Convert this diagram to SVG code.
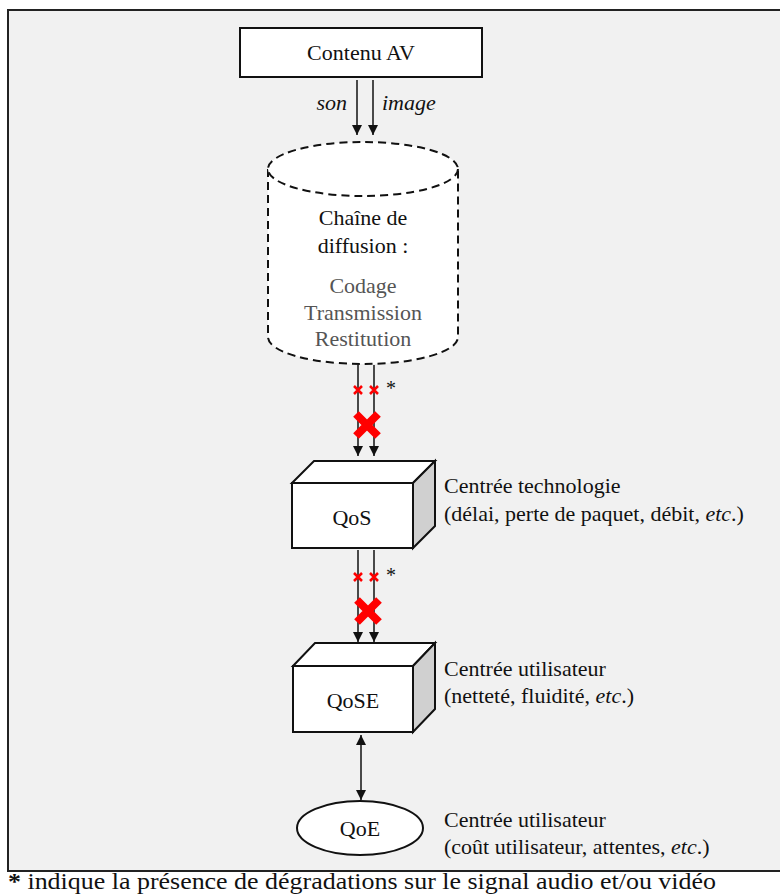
<svg xmlns="http://www.w3.org/2000/svg" width="780" height="894" viewBox="0 0 780 894">
<style>
.c{text-anchor:middle}
.ln{stroke:#111;stroke-width:1.5;fill:none}
.dash{stroke:#111;stroke-width:2;fill:#fff;stroke-dasharray:8,5}
.box{fill:#fff;stroke:#111;stroke-width:2}
.side{fill:#d0d0d0;stroke:#111;stroke-width:2}
.sx{stroke:#f00;stroke-width:2.5;fill:none}
.bx{stroke:#f00;stroke-width:8;fill:none}
</style>
<defs>
<marker id="ah" viewBox="0 0 10 10" refX="10" refY="5" markerWidth="10" markerHeight="10" markerUnits="userSpaceOnUse" orient="auto-start-reverse">
<path d="M0,0 L10,5 L0,10 z" fill="#111"/>
</marker>
</defs>
<rect x="0" y="0" width="780" height="894" fill="#fff"/>
<rect id="frame" x="8" y="10" width="790" height="861" fill="#f1f1f1" stroke="#222" stroke-width="2"/>
<g font-family="Liberation Serif" font-size="22" fill="#111">

<g id="contenu">
<rect class="box" x="240" y="28" width="242" height="49"/>
<text class="c" x="361" y="60">Contenu AV</text>
</g>

<g id="chaine">
<path class="dash" d="M268,169 L268,337 A95,27 0 0 0 458,337 L458,169"/>
<ellipse class="dash" cx="363" cy="169" rx="95" ry="27"/>
<text class="c" x="363" y="225">Chaîne de</text>
<text class="c" x="363" y="253">diffusion :</text>
<text class="c" x="363" y="293" fill="#555">Codage</text>
<text class="c" x="363" y="320" fill="#555">Transmission</text>
<text class="c" x="363" y="346" fill="#555">Restitution</text>
</g>

<g id="qos">
<rect class="box" x="292" y="483" width="121" height="65"/>
<path class="box" d="M292,483 L314,461 L435,461 L413,483 Z"/>
<path class="side" d="M413,483 L435,461 L435,526 L413,548 Z"/>
<text class="c" x="352" y="525">QoS</text>
<text x="444" y="493">Centrée technologie</text>
<text x="444" y="521">(délai, perte de paquet, débit, <tspan font-style="italic">etc</tspan>.)</text>
</g>

<g id="qose">
<rect class="box" x="293" y="666" width="120" height="66"/>
<path class="box" d="M293,666 L315,643 L435,643 L413,666 Z"/>
<path class="side" d="M413,666 L435,643 L435,709 L413,732 Z"/>
<text class="c" x="353" y="708">QoSE</text>
<text x="444" y="676">Centrée utilisateur</text>
<text x="444" y="703">(netteté, fluidité, <tspan font-style="italic">etc</tspan>.)</text>
</g>

<g id="qoe">
<ellipse class="box" cx="360" cy="828" rx="63" ry="27" stroke-width="1.8"/>
<text class="c" x="360" y="836">QoE</text>
<text x="444" y="827">Centrée utilisateur</text>
<text x="444" y="854">(coût utilisateur, attentes, <tspan font-style="italic">etc</tspan>.)</text>
</g>

<g id="connectors">
<line class="ln" x1="357" y1="80" x2="357" y2="135" marker-end="url(#ah)"/>
<line class="ln" x1="373" y1="80" x2="373" y2="135" marker-end="url(#ah)"/>
<text x="347" y="110" text-anchor="end" font-style="italic">son</text>
<text x="382" y="110" font-style="italic">image</text>

<line class="ln" x1="358" y1="365" x2="358" y2="456" marker-end="url(#ah)"/>
<line class="ln" x1="374" y1="365" x2="374" y2="456" marker-end="url(#ah)"/>
<path class="sx" d="M354,386 l8,8 M362,386 l-8,8 M370,386 l8,8 M378,386 l-8,8"/>
<text x="386" y="395" font-size="20">*</text>
<path class="bx" d="M356,414 l22,22 M378,414 l-22,22"/>

<line class="ln" x1="358" y1="550" x2="358" y2="642" marker-end="url(#ah)"/>
<line class="ln" x1="374" y1="550" x2="374" y2="642" marker-end="url(#ah)"/>
<path class="sx" d="M354,573 l8,8 M362,573 l-8,8 M370,573 l8,8 M378,573 l-8,8"/>
<text x="386" y="582" font-size="20">*</text>
<path class="bx" d="M357,600 l22,22 M379,600 l-22,22"/>

<line class="ln" x1="361" y1="735" x2="361" y2="800" marker-start="url(#ah)" marker-end="url(#ah)"/>
</g>

<text x="8" y="889" font-size="23" textLength="708" lengthAdjust="spacingAndGlyphs"><tspan font-weight="bold">*</tspan> indique la présence de dégradations sur le signal audio et/ou vidéo</text>
</g>
</svg>
